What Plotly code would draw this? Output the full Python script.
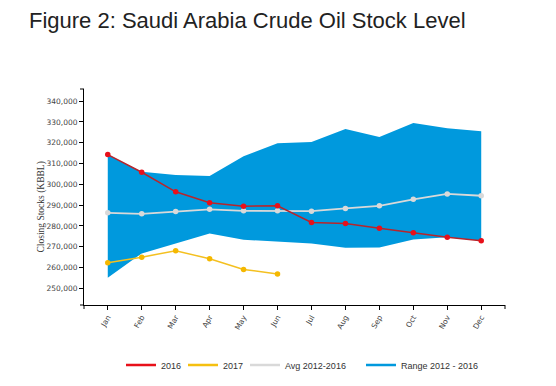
import plotly.graph_objects as go

months = ["Jan", "Feb", "Mar", "Apr", "May", "Jun", "Jul", "Aug", "Sep", "Oct", "Nov", "Dec"]
x_idx = list(range(len(months)))

stock_2016 = [314300, 305800, 296400, 291100, 289500, 289650, 281650, 281200, 278900, 276700, 274600, 272900]
stock_2017 = [262300, 265000, 268100, 264200, 259100, 256900]
avg_2012_2016 = [286300, 285800, 286900, 288000, 287250, 287250, 287100, 288400, 289650, 292800, 295400, 294500]
range_upper = [314300, 306000, 304500, 304000, 313450, 319700, 320300, 326600, 322750, 329500, 326900, 325450]
range_lower = [255100, 266800, 271600, 276400, 273350, 272400, 271600, 269500, 269650, 273500, 274500, 272900]

y_tickvals = [250000, 260000, 270000, 280000, 290000, 300000, 310000, 320000, 330000, 340000]
y_ticktext = ["250,000", "260,000", "270,000", "280,000", "290,000", "300,000", "310,000", "320,000", "330,000", "340,000"]

RED_LINE = "#b8252b"
RED_MK = "#e8101a"
YEL = "#f4c020"
YEL_MK = "#f5b800"
GRAY = "#d9d9d9"
BLUE = "#0099dd"

W, H = 548, 378  # page has an 8px body margin
L, T = 76, 81
PW, PH = 421, 216

fig = go.Figure()

fig.add_trace(go.Scatter(x=x_idx, y=range_lower, mode="lines", line=dict(width=0, color=BLUE),
                         showlegend=False, hoverinfo="skip"))
fig.add_trace(go.Scatter(x=x_idx, y=range_upper, mode="lines", line=dict(width=0, color=BLUE),
                         fill="tonexty", fillcolor=BLUE, showlegend=False, hoverinfo="skip"))

fig.add_trace(go.Scatter(x=x_idx, y=avg_2012_2016, mode="lines+markers", name="Avg 2012-2016",
                         line=dict(color=GRAY, width=1.8), marker=dict(color=GRAY, size=5.5),
                         showlegend=False))
fig.add_trace(go.Scatter(x=x_idx, y=stock_2016, mode="lines+markers", name="2016",
                         line=dict(color=RED_LINE, width=1.5), marker=dict(color=RED_MK, size=5.5),
                         showlegend=False))
fig.add_trace(go.Scatter(x=x_idx[:len(stock_2017)], y=stock_2017, mode="lines+markers", name="2017",
                         line=dict(color=YEL, width=1.5), marker=dict(color=YEL_MK, size=5.5),
                         showlegend=False))

# legend entries (line only, as in the original)
for name, color, lg in [("2016", "#e8101a", "legend"), ("2017", "#f5c010", "legend2"),
                        ("Avg 2012-2016", "#d9d9d9", "legend3"), ("Range 2012 - 2016", BLUE, "legend4")]:
    fig.add_trace(go.Scatter(x=[None], y=[None], mode="lines", name=name,
                             line=dict(color=color, width=2.5), legend=lg))

leg_font = dict(family="Liberation Sans, Arial, sans-serif", size=9, color="#333333")
def leg(xpx):
    return dict(x=xpx / W, xref="container", xanchor="left", y=1 - 357 / H, yref="container",
                yanchor="middle", orientation="h", font=leg_font, bgcolor="rgba(0,0,0,0)",
                borderwidth=0, tracegroupgap=0, itemwidth=30)

axis_font = dict(family="DejaVu Sans, sans-serif", size=7.5, color="#444444")

fig.update_layout(
    width=W, height=H,
    margin=dict(l=L, r=W - L - PW, t=T, b=H - T - PH),
    paper_bgcolor="white", plot_bgcolor="white",
    title=dict(text="Figure 2: Saudi Arabia Crude Oil Stock Level", x=21 / W, xref="container",
               xanchor="left", y=1 - 12 / H, yref="container", yanchor="middle",
               font=dict(family="Liberation Sans, Arial, sans-serif", size=22, color="#222222")),
    xaxis=dict(range=[-0.7, 11.7], tickvals=x_idx, ticktext=months, tickangle=-60,
               showgrid=False, zeroline=False, showline=True, linecolor="black", linewidth=1,
               ticks="outside", ticklen=4, tickcolor="black", tickfont=axis_font),
    yaxis=dict(range=[242000, 345800], tickvals=y_tickvals, ticktext=y_ticktext,
               showgrid=False, zeroline=False, showline=True, linecolor="black", linewidth=1,
               ticks="outside", ticklen=4, tickcolor="black", tickfont=axis_font),
    legend=leg(113),
    legend2=leg(175),
    legend3=leg(237),
    legend4=leg(353),
    showlegend=True,
)

# outer ticks at axis extents
for xp in (0, 1):
    fig.add_shape(type="line", xref="paper", yref="paper", x0=xp, x1=xp, y0=0, y1=-4 / PH,
                  line=dict(color="black", width=1))
for yp in (0, 1):
    fig.add_shape(type="line", xref="paper", yref="paper", x0=0, x1=-4 / PW, y0=yp, y1=yp,
                  line=dict(color="black", width=1))

fig.add_annotation(text="Closing Stocks (KBBL)", textangle=-90, xref="paper", yref="paper",
                   x=(25 - L) / PW, y=(T + PH - 199) / PH, showarrow=False,
                   font=dict(family="Liberation Serif, serif", size=9.5, color="#333333"))

fig.write_html("out.html")
